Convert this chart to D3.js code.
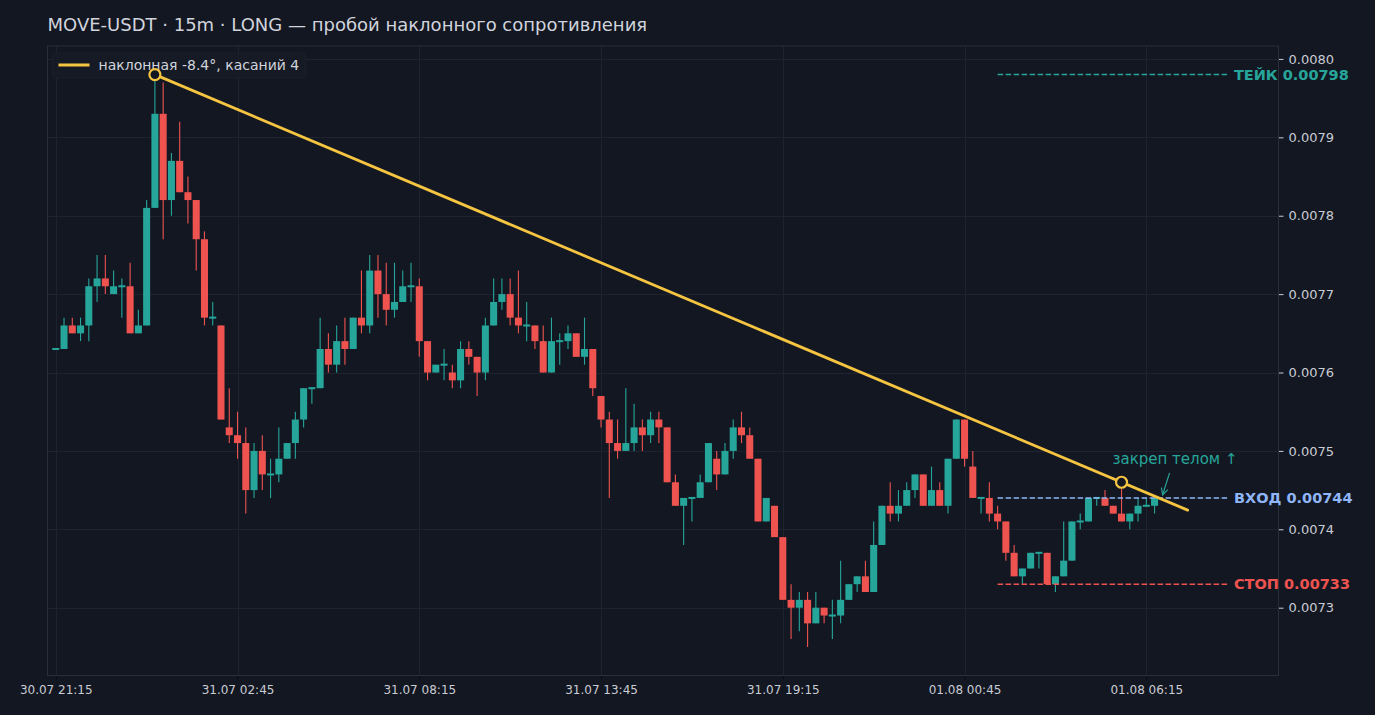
<!DOCTYPE html>
<html>
<head>
<meta charset="utf-8">
<script src="https://cdn.jsdelivr.net/npm/d3@7"></script>
<style>
  html, body { margin: 0; padding: 0; background: #131722; }
  svg { display: block; font-family: "DejaVu Sans", sans-serif; }
</style>
</head>
<body>
<svg id="chart" width="1375" height="715"></svg>
<script>
// 15m candles, MOVE-USDT, starting 30.07 21:15
const startTime = new Date(2025, 6, 30, 21, 15);
const stepMinutes = 15;

const opens = [
  0.00763, 0.00763, 0.00766, 0.00765, 0.00766, 0.00771, 0.00772, 0.00770, 0.00771, 0.00771,
  0.00765, 0.00766, 0.00781, 0.00793, 0.00782, 0.00787, 0.00783, 0.00782, 0.00777, 0.00767,
  0.00766, 0.00753, 0.00752, 0.00751, 0.00745, 0.00750, 0.00747, 0.00747, 0.00749, 0.00751,
  0.00754, 0.00758, 0.00758, 0.00763, 0.00761, 0.00764, 0.00763, 0.00767, 0.00766, 0.00773,
  0.00770, 0.00768, 0.00769, 0.00771, 0.00771, 0.00764, 0.00760, 0.00761, 0.00760, 0.00759,
  0.00763, 0.00762, 0.00760, 0.00766, 0.00769, 0.00770, 0.00767, 0.00766, 0.00766, 0.00764,
  0.00760, 0.00764, 0.00764, 0.00765, 0.00762, 0.00763, 0.00757, 0.00754, 0.00751, 0.00750,
  0.00751, 0.00753, 0.00752, 0.00754, 0.00753, 0.00746, 0.00743, 0.00744, 0.00744, 0.00746,
  0.00749, 0.00747, 0.00750, 0.00753, 0.00752, 0.00749, 0.00741, 0.00743, 0.00739, 0.00731,
  0.00730, 0.00731, 0.00728, 0.00730, 0.00729, 0.00729, 0.00731, 0.00733, 0.00734, 0.00732,
  0.00738, 0.00743, 0.00742, 0.00743, 0.00745, 0.00747, 0.00743, 0.00745, 0.00743, 0.00749,
  0.00754, 0.00748, 0.00744, 0.00744, 0.00742, 0.00741, 0.00737, 0.00734, 0.00735, 0.00737,
  0.00737, 0.00733, 0.00734, 0.00736, 0.00741, 0.00741, 0.00744, 0.00744, 0.00743, 0.00742,
  0.00741, 0.00742, 0.00743, 0.00743
];
const highs = [
  0.00763, 0.00767, 0.00767, 0.00767, 0.00772, 0.00775, 0.00775, 0.00773, 0.00772, 0.00774,
  0.00768, 0.00782, 0.00798, 0.00797, 0.00788, 0.00792, 0.00785, 0.00782, 0.00778, 0.00769,
  0.00766, 0.00758, 0.00755, 0.00753, 0.00751, 0.00752, 0.00749, 0.00753, 0.00751, 0.00755,
  0.00758, 0.00758, 0.00767, 0.00765, 0.00766, 0.00767, 0.00767, 0.00773, 0.00775, 0.00775,
  0.00774, 0.00774, 0.00773, 0.00774, 0.00772, 0.00764, 0.00761, 0.00763, 0.00761, 0.00764,
  0.00764, 0.00762, 0.00767, 0.00772, 0.00772, 0.00772, 0.00773, 0.00769, 0.00766, 0.00766,
  0.00767, 0.00765, 0.00766, 0.00765, 0.00767, 0.00763, 0.00757, 0.00755, 0.00754, 0.00758,
  0.00756, 0.00754, 0.00755, 0.00755, 0.00753, 0.00747, 0.00744, 0.00744, 0.00747, 0.00751,
  0.00750, 0.00751, 0.00754, 0.00755, 0.00753, 0.00749, 0.00744, 0.00743, 0.00739, 0.00733,
  0.00732, 0.00732, 0.00732, 0.00730, 0.00731, 0.00736, 0.00733, 0.00734, 0.00736, 0.00741,
  0.00743, 0.00746, 0.00745, 0.00746, 0.00747, 0.00747, 0.00748, 0.00746, 0.00749, 0.00754,
  0.00754, 0.00750, 0.00744, 0.00746, 0.00743, 0.00741, 0.00738, 0.00735, 0.00737, 0.00737,
  0.00737, 0.00734, 0.00741, 0.00741, 0.00742, 0.00744, 0.00744, 0.00745, 0.00743, 0.00746,
  0.00742, 0.00744, 0.00744, 0.00744
];
const lows = [
  0.00763, 0.00763, 0.00765, 0.00764, 0.00764, 0.00769, 0.00770, 0.00770, 0.00767, 0.00765,
  0.00765, 0.00766, 0.00781, 0.00777, 0.00780, 0.00783, 0.00779, 0.00773, 0.00766, 0.00766,
  0.00754, 0.00751, 0.00749, 0.00742, 0.00744, 0.00745, 0.00744, 0.00746, 0.00749, 0.00749,
  0.00753, 0.00756, 0.00758, 0.00760, 0.00760, 0.00761, 0.00763, 0.00765, 0.00765, 0.00767,
  0.00766, 0.00767, 0.00769, 0.00769, 0.00762, 0.00759, 0.00760, 0.00759, 0.00758, 0.00758,
  0.00761, 0.00757, 0.00759, 0.00766, 0.00768, 0.00766, 0.00765, 0.00764, 0.00763, 0.00760,
  0.00760, 0.00761, 0.00763, 0.00762, 0.00761, 0.00757, 0.00753, 0.00744, 0.00749, 0.00750,
  0.00750, 0.00750, 0.00751, 0.00751, 0.00746, 0.00743, 0.00738, 0.00741, 0.00744, 0.00746,
  0.00745, 0.00747, 0.00749, 0.00751, 0.00749, 0.00741, 0.00741, 0.00739, 0.00731, 0.00726,
  0.00727, 0.00725, 0.00728, 0.00728, 0.00726, 0.00728, 0.00731, 0.00732, 0.00732, 0.00732,
  0.00738, 0.00741, 0.00741, 0.00743, 0.00744, 0.00743, 0.00743, 0.00743, 0.00742, 0.00749,
  0.00748, 0.00744, 0.00742, 0.00741, 0.00740, 0.00736, 0.00734, 0.00733, 0.00735, 0.00735,
  0.00733, 0.00732, 0.00734, 0.00736, 0.00740, 0.00741, 0.00743, 0.00743, 0.00742, 0.00741,
  0.00740, 0.00741, 0.00743, 0.00742
];
const closes = [
  0.00763, 0.00766, 0.00765, 0.00766, 0.00771, 0.00772, 0.00771, 0.00771, 0.00771, 0.00765,
  0.00766, 0.00781, 0.00793, 0.00782, 0.00787, 0.00783, 0.00782, 0.00777, 0.00767, 0.00767,
  0.00754, 0.00752, 0.00751, 0.00745, 0.00750, 0.00747, 0.00747, 0.00749, 0.00751, 0.00754,
  0.00758, 0.00758, 0.00763, 0.00761, 0.00764, 0.00763, 0.00767, 0.00766, 0.00773, 0.00770,
  0.00768, 0.00769, 0.00771, 0.00771, 0.00764, 0.00760, 0.00761, 0.00761, 0.00759, 0.00763,
  0.00762, 0.00760, 0.00766, 0.00769, 0.00770, 0.00767, 0.00766, 0.00766, 0.00764, 0.00760,
  0.00764, 0.00764, 0.00765, 0.00762, 0.00763, 0.00758, 0.00754, 0.00751, 0.00750, 0.00751,
  0.00753, 0.00752, 0.00754, 0.00753, 0.00746, 0.00743, 0.00744, 0.00744, 0.00746, 0.00751,
  0.00747, 0.00750, 0.00753, 0.00752, 0.00749, 0.00741, 0.00744, 0.00739, 0.00731, 0.00730,
  0.00731, 0.00728, 0.00730, 0.00729, 0.00729, 0.00731, 0.00733, 0.00734, 0.00732, 0.00738,
  0.00743, 0.00742, 0.00743, 0.00745, 0.00747, 0.00743, 0.00745, 0.00743, 0.00749, 0.00754,
  0.00749, 0.00744, 0.00744, 0.00742, 0.00741, 0.00737, 0.00734, 0.00735, 0.00737, 0.00737,
  0.00733, 0.00734, 0.00736, 0.00741, 0.00741, 0.00744, 0.00744, 0.00743, 0.00742, 0.00741,
  0.00742, 0.00743, 0.00743, 0.00744
];

// trade levels
const levels = [
  { name: "ТЕЙК", price: 0.00798, color: "#26a69a" },
  { name: "ВХОД", price: 0.00744, color: "#8fb6f7" },
  { name: "СТОП", price: 0.00733, color: "#ef5350" }
];
const levelStart = 114;
const levelEnd = 142;

// sloped resistance: anchored at two highs
const trendAnchors = [12, 129];
const trendEnd = 137;
const trendLabel = "наклонная -8.4°, касаний 4";

const tickEvery = 22;
const title = "MOVE-USDT · 15m · LONG — пробой наклонного сопротивления";
const noteText = "закреп телом ↑";

const UP = "#26a69a", DOWN = "#ef5350", GOLD = "#f5c542", BG = "#131722";

const svg = d3.select("#chart");
const m = { left: 47.5, right: 1278.5, top: 46, bottom: 675.5 };

const n = opens.length;
const candles = d3.range(n).map((i) => ({
  i,
  t: d3.timeMinute.offset(startTime, i * stepMinutes),
  o: opens[i], h: highs[i], l: lows[i], c: closes[i]
}));

const x = d3.scaleLinear().domain([-1, n + 14]).range([m.left, m.right]);
const lo = d3.min(lows.concat(levels.map((d) => d.price)));
const hi = d3.max(highs.concat(levels.map((d) => d.price)));
const pad = (hi - lo) * 0.05;
const y = d3.scaleLinear().domain([lo - pad, hi + pad]).range([m.bottom, m.top]);

svg.append("rect").attr("width", 1375).attr("height", 715).attr("fill", BG);

// grid
const yTicks = d3.range(0.0073, 0.00805, 0.0001);
const xTicks = d3.range(0, n, tickEvery);
const grid = svg.append("g").attr("stroke", "#1f2330").attr("stroke-width", 1);
grid.selectAll("line.h").data(yTicks).join("line")
  .attr("x1", m.left).attr("x2", m.right)
  .attr("y1", (d) => Math.round(y(d)) + 0.5).attr("y2", (d) => Math.round(y(d)) + 0.5);
grid.selectAll("line.v").data(xTicks).join("line")
  .attr("y1", m.top).attr("y2", m.bottom)
  .attr("x1", (d) => Math.round(x(d)) + 0.5).attr("x2", (d) => Math.round(x(d)) + 0.5);

// axes
const fmtTime = d3.timeFormat("%d.%m %H:%M");
const xAxis = d3.axisBottom(x).tickValues(xTicks).tickSize(4).tickPadding(6)
  .tickFormat((d) => fmtTime(candles[d].t));
const gx = svg.append("g").attr("transform", `translate(0,${m.bottom})`).call(xAxis);
gx.select(".domain").remove();
gx.selectAll("line").attr("stroke", "#0a0c10");
gx.selectAll("text").attr("fill", "#c9ccd3").attr("font-size", 12)
  .attr("font-family", "DejaVu Sans");

const yAxis = d3.axisRight(y).tickValues(yTicks).tickSize(5).tickPadding(5)
  .tickFormat(d3.format(".4f"));
const gy = svg.append("g").attr("transform", `translate(${m.right},0)`).call(yAxis);
gy.select(".domain").remove();
gy.selectAll("line").attr("stroke", "#c9ccd3");
gy.selectAll("text").attr("fill", "#c9ccd3").attr("font-size", 13)
  .attr("font-family", "DejaVu Sans");

// frame
svg.append("rect").attr("x", m.left).attr("y", m.top)
  .attr("width", m.right - m.left).attr("height", m.bottom - m.top)
  .attr("fill", "none").attr("stroke", "#2a2e39").attr("stroke-width", 1);

// legend (drawn under the marks)
const leg = svg.append("g").attr("transform", `translate(${m.left + 5},${m.top + 7})`);
leg.append("rect").attr("width", 253).attr("height", 25).attr("rx", 3)
  .attr("fill", "#161a25").attr("stroke", "#1b1f2b");
leg.append("line").attr("x1", 6).attr("x2", 37).attr("y1", 12).attr("y2", 12)
  .attr("stroke", GOLD).attr("stroke-width", 3);
leg.append("text").attr("x", 46).attr("y", 12).attr("dy", "0.35em")
  .attr("fill", "#d1d4dc").attr("font-size", 14).attr("font-family", "DejaVu Sans")
  .text(trendLabel);

// candles
const bw = (x(1) - x(0)) * 0.85;
const cg = svg.append("g").selectAll("g").data(candles).join("g")
  .attr("fill", (d) => (d.c >= d.o ? UP : DOWN))
  .attr("stroke", (d) => (d.c >= d.o ? UP : DOWN));
cg.append("line")
  .attr("x1", (d) => x(d.i)).attr("x2", (d) => x(d.i))
  .attr("y1", (d) => y(d.h)).attr("y2", (d) => y(d.l))
  .attr("stroke-width", 1.1);
cg.append("rect")
  .attr("x", (d) => x(d.i) - bw / 2).attr("width", bw)
  .attr("y", (d) => y(Math.max(d.o, d.c)) - (d.o === d.c ? 1 : 0))
  .attr("height", (d) => Math.max(2, Math.abs(y(d.o) - y(d.c))))
  .attr("stroke", "none");

// levels
const lg = svg.append("g").selectAll("g").data(levels).join("g");
lg.append("line")
  .attr("x1", x(levelStart)).attr("x2", x(levelEnd))
  .attr("y1", (d) => y(d.price)).attr("y2", (d) => y(d.price))
  .attr("stroke", (d) => d.color).attr("stroke-width", 1.5)
  .attr("stroke-dasharray", "5.5,2.5");
lg.append("text")
  .attr("x", x(levelEnd) + 5).attr("y", (d) => y(d.price))
  .attr("dy", "0.35em").attr("fill", (d) => d.color)
  .attr("font-size", 14.5).attr("font-weight", "bold")
  .attr("font-family", "DejaVu Sans")
  .text((d) => `${d.name} ${d.price.toFixed(5)}`);

// trend line
const [a, b] = trendAnchors;
const slope = (highs[b] - highs[a]) / (b - a);
const trendAt = (i) => highs[a] + slope * (i - a);
svg.append("line")
  .attr("x1", x(a)).attr("y1", y(trendAt(a)))
  .attr("x2", x(trendEnd)).attr("y2", y(trendAt(trendEnd)))
  .attr("stroke", GOLD).attr("stroke-width", 2.8).attr("stroke-linecap", "round");
svg.append("g").selectAll("circle").data(trendAnchors).join("circle")
  .attr("cx", (d) => x(d)).attr("cy", (d) => y(highs[d])).attr("r", 5.5)
  .attr("fill", BG).attr("stroke", GOLD).attr("stroke-width", 2.2);

// annotation
const last = n - 1;
svg.append("defs").append("marker")
  .attr("id", "arr").attr("viewBox", "0 0 10 10").attr("refX", 9).attr("refY", 5)
  .attr("markerWidth", 7).attr("markerHeight", 7).attr("orient", "auto")
  .append("path").attr("d", "M1,1 L9,5 L1,9").attr("fill", "none")
  .attr("stroke", UP).attr("stroke-width", 1.4);
svg.append("line")
  .attr("x1", x(last) + 15).attr("y1", y(levels[1].price) - 25)
  .attr("x2", x(last) + 8).attr("y2", y(levels[1].price) - 3)
  .attr("stroke", UP).attr("stroke-width", 1.2).attr("marker-end", "url(#arr)");
svg.append("text")
  .attr("x", x(last) - 42).attr("y", y(levels[1].price) - 34)
  .attr("fill", UP).attr("font-size", 15).attr("font-family", "DejaVu Sans")
  .text(noteText);

// title
svg.append("text").attr("x", m.left).attr("y", 31)
  .attr("fill", "#d1d4dc").attr("font-size", 18).attr("font-family", "DejaVu Sans")
  .text(title);
</script>
</body>
</html>
